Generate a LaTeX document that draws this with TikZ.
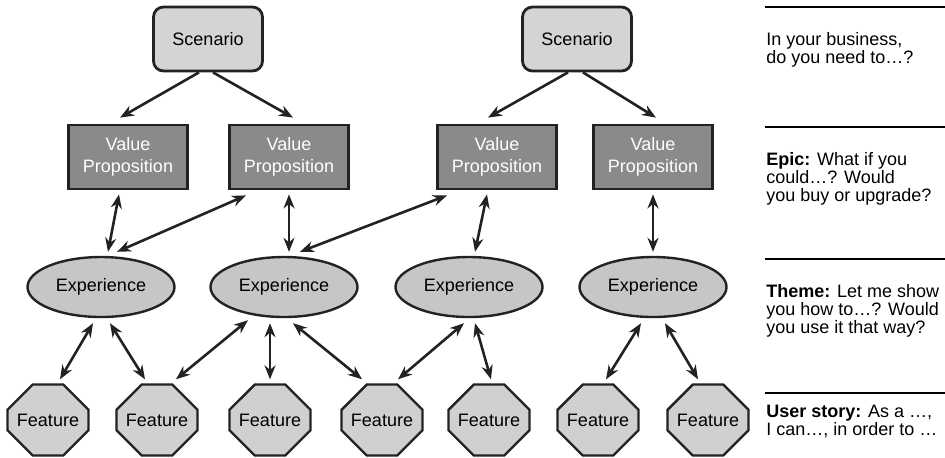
\documentclass[tikz,border=0pt]{standalone}
\usepackage{fontspec}
\setmainfont{Liberation Sans}
\usetikzlibrary{arrows.meta,shapes.geometric,shapes.misc}
\definecolor{inkgray}{HTML}{222222}
\definecolor{scengray}{HTML}{D4D4D4}
\definecolor{propgray}{HTML}{8A8A8A}
\definecolor{expgray}{HTML}{C6C6C6}
\definecolor{featgray}{HTML}{D0D0D0}

\begin{document}
\begin{tikzpicture}[x=0.5pt,y=-0.5pt]
\tikzstyle{scen} = [draw=inkgray, line width=1.4pt, fill=scengray, rounded corners=5pt, minimum width=54.5pt, minimum height=32pt, font=\fontsize{9}{11}\selectfont]
\tikzstyle{prop} = [draw=inkgray, line width=1.4pt, fill=propgray, text=white, align=center, minimum width=59.5pt, minimum height=32pt, font=\fontsize{9}{11.3}\selectfont]
\tikzstyle{exper} = [draw=inkgray, line width=1.2pt, fill=expgray, ellipse, minimum width=73.5pt, minimum height=30pt, inner sep=0pt, font=\fontsize{9}{11}\selectfont]
\tikzstyle{feat} = [draw=inkgray, line width=1.2pt, fill=featgray, chamfered rectangle, chamfered rectangle xsep=10pt, chamfered rectangle ysep=9.5pt, minimum width=40.5pt, minimum height=35.5pt, inner sep=0pt, font=\fontsize{9}{11}\selectfont]
% anchor sits on the baseline of the last line
\tikzstyle{note} = [anchor=base west, inner sep=0pt, align=left, font=\fontsize{9}{9.2}\selectfont]
% arrows between the levels
\tikzset{down/.style={-{Stealth[length=7pt,width=5.5pt]}, draw=inkgray, line width=1.3pt},
         both/.style={{Stealth[length=7pt,width=5.5pt]}-{Stealth[length=7pt,width=5.5pt]}, draw=inkgray, line width=1.3pt},
         rule/.style={draw=black, line width=1.3pt}}
\useasboundingbox (0,0) rectangle (945,457);

% top level
\node[scen] (sc1) at (208,39) {Scenario};
\node[scen] (sc2) at (577,39) {Scenario};

% value propositions
\node[prop] (vp1) at (128,157) {Value\\Proposition};
\node[prop] (vp2) at (289,157) {Value\\Proposition};
\node[prop] (vp3) at (497,157) {Value\\Proposition};
\node[prop] (vp4) at (653,157) {Value\\Proposition};

% experiences
\node[exper] (ex1) at (101,287) {Experience};
\node[exper] (ex2) at (284,287) {Experience};
\node[exper] (ex3) at (469,287) {Experience};
\node[exper] (ex4) at (653,287) {Experience};

% features
\node[feat] (f1) at (48,420) {Feature};
\node[feat] (f2) at (157,420) {Feature};
\node[feat] (f3) at (270,420) {Feature};
\node[feat] (f4) at (382,420) {Feature};
\node[feat] (f5) at (489,420) {Feature};
\node[feat] (f6) at (598,420) {Feature};
\node[feat] (f7) at (708,420) {Feature};

% scenario -> value proposition
\draw[down] ([xshift=-4.5pt]sc1.south) -- ([xshift=-4pt,yshift=3pt]vp1.north);
\draw[down] ([xshift=2.5pt]sc1.south) -- ([xshift=2pt,yshift=3pt]vp2.north);
\draw[down] ([xshift=-4.5pt]sc2.south) -- ([xshift=-4.5pt,yshift=3pt]vp3.north);
\draw[down] ([xshift=3pt]sc2.south) -- ([xshift=1.5pt,yshift=3pt]vp4.north);

% value proposition <-> experience
\draw[both] ([xshift=-4.5pt,yshift=-2pt]vp1.south) -- ([xshift=3.5pt,yshift=2pt]ex1.north);
\draw[both] ([xshift=-21.5pt,yshift=-2.5pt]vp2.south) -- ([xshift=8pt,yshift=2pt]ex1.north);
\draw[both] ([yshift=-2pt]vp2.south) -- ([xshift=2.5pt,yshift=2pt]ex2.north);
\draw[both] ([xshift=-25pt,yshift=-2.5pt]vp3.south) -- ([xshift=8pt,yshift=2pt]ex2.north);
\draw[both] ([xshift=-5pt,yshift=-2pt]vp3.south) -- ([xshift=3pt,yshift=2pt]ex3.north);
\draw[both] ([yshift=-2pt]vp4.south) -- ([yshift=2pt]ex4.north);

% experience <-> feature
\draw[both] ([xshift=-4pt,yshift=-2.5pt]ex1.south) -- ([xshift=6pt,yshift=2pt]f1.north);
\draw[both] ([xshift=4.5pt,yshift=-2.5pt]ex1.south) -- ([xshift=-6pt,yshift=2pt]f2.north);
\draw[both] ([xshift=-18pt,yshift=-1pt]ex2.south) -- ([xshift=9.5pt,yshift=2pt]f2.north);
\draw[both] ([xshift=-7pt,yshift=-2.5pt]ex2.south) -- ([yshift=2pt]f3.north);
\draw[both] ([xshift=4.5pt,yshift=-2.5pt]ex2.south) -- ([xshift=-10pt,yshift=2pt]f4.north);
\draw[both] ([xshift=-2.5pt,yshift=-2.5pt]ex3.south) -- ([xshift=8pt,yshift=2pt]f4.north);
\draw[both] ([xshift=3pt,yshift=-2.5pt]ex3.south) -- ([xshift=1pt,yshift=2pt]f5.north);
\draw[both] ([xshift=-6pt,yshift=-2.5pt]ex4.south) -- ([xshift=4pt,yshift=2pt]f6.north);
\draw[both] ([xshift=6pt,yshift=-2.5pt]ex4.south) -- ([xshift=-5pt,yshift=2pt]f7.north);

% questions on the right
\draw[rule] (765,7) -- (945,7);
\draw[rule] (765,127) -- (945,127);
\draw[rule] (765,259) -- (945,259);
\draw[rule] (765,393) -- (945,393);
\node[note] (q1) at (766,63.4) {In your business,\\do you need to…?};
\node[note] (q2) at (766,201.8) {\textbf{Epic:} What if you\\could…? Would\\you buy or upgrade?};
\node[note] (q3) at (766,333.8) {\textbf{Theme:} Let me show\\you how to…? Would\\you use it that way?};
\node[note] (q4) at (766,435.4) {\textbf{User story:} As a …,\\I can…, in order to …};
\end{tikzpicture}
\end{document}
